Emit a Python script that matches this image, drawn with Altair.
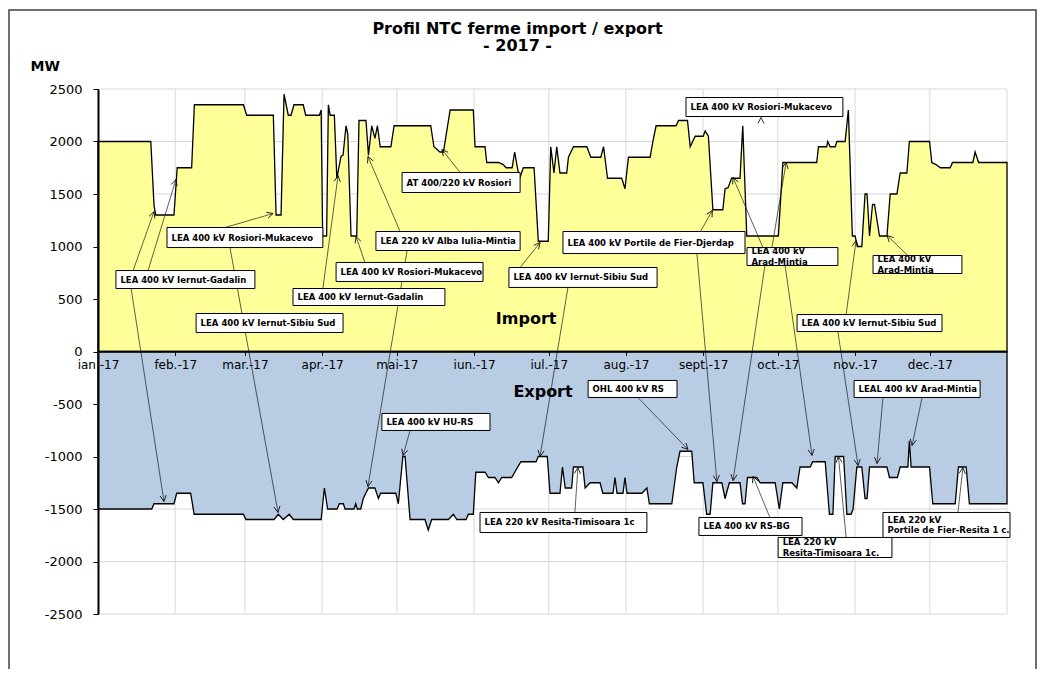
import math
import altair as alt
import pandas as pd

TITLE_LINES = ["Profil NTC ferme import / export", "- 2017 -"]
MONTH_START = [0, 31, 59, 90, 120, 151, 181, 212, 243, 273, 304, 334]
MONTH_LABELS = ["ian.-17", "feb.-17", "mar.-17", "apr.-17", "mai-17", "iun.-17",
                "iul.-17", "aug.-17", "sept.-17", "oct.-17", "nov.-17", "dec.-17"]
Y_TICKS = [2500, 2000, 1500, 1000, 500, 0, -500, -1000, -1500, -2000, -2500]

# Import profile (day of year, MW)
IMP_DAY = [0, 21.2, 22.5, 23.2, 30.5, 31.8, 37.6, 38.7, 58.4, 59.7, 70.4, 71.5, 73.5, 74.7, 76.4, 77.5,
           78.7, 82.4, 83.4, 88.9, 89.6, 90.2, 91.8, 92.5, 93.2, 94.9, 95.9, 97.6, 98.4, 99.6, 100.3,
           101.6, 103.9, 104.8, 107.6, 108.6, 109.9, 111.2, 112.2, 113.3, 117.6, 118.9, 133.6, 134.9,
           137.3, 138.7, 141.4, 150.7, 151.4, 155.4, 156.1, 160.8, 162.7, 163.9, 166.3, 167.3, 168.8,
           169.5, 170.8, 175.1, 176.8, 180.8, 181.8, 183.1, 184.2, 185.5, 188.2, 188.9, 190.9, 196.3,
           197.9, 201.9, 203.0, 204.6, 210.3, 211.6, 213.0, 221.7, 222.8, 224.1, 232.1, 233.1, 236.7,
           237.8, 239.8, 243.0, 243.8, 245.1, 246.9, 250.9, 251.8, 253.0, 254.4, 257.8, 258.9, 260.5,
           273.2, 275.0, 288.6, 289.3, 292.6, 293.0, 294.0, 296.0, 296.7, 300.0, 301.3, 302.9, 304.0,
           304.9, 306.7, 308.0, 308.8, 309.8, 311.0, 311.8, 313.8, 316.8, 318.1, 320.8, 322.1, 324.8,
           325.8, 333.9, 334.8, 336.5, 338.2, 342.2, 343.1, 351.3, 352.2, 353.6, 365]
IMP_MW = [2000, 2000, 1390, 1300, 1300, 1750, 1750, 2350, 2350, 2250, 2250, 1300, 1300, 2450, 2250, 2250,
          2350, 2350, 2250, 2250, 2300, 1100, 1100, 2350, 2250, 2250, 1650, 1860, 1870, 2150, 2070,
          1100, 1100, 2200, 2200, 1870, 2150, 2030, 2150, 1950, 1950, 2150, 2150, 1950,
          1900, 1900, 2300, 2300, 1950, 1950, 1800, 1800, 1780, 1750, 1750, 1900, 1700,
          1660, 1750, 1750, 1050, 1050, 1950, 1700, 1950, 1700, 1700, 1850, 1950, 1950,
          1850, 1850, 1950, 1650, 1650, 1550, 1850, 1850, 2000, 2150, 2150, 2200, 2200,
          1950, 2050, 2050, 2100, 2050, 1350, 1350, 1550, 1560, 1650, 1650, 2150, 1100,
          1100, 1800, 1800, 1950, 1950, 2000, 1950, 1950, 2000, 2000, 2300, 1100, 1100,
          1000, 1000, 1500, 1500, 1100, 1400, 1400, 1100, 1100, 1500, 1500, 1700, 1700,
          2000, 2000, 1800, 1780, 1750, 1750, 1800, 1800, 1900, 1800, 1800]

# Export profile (day of year, MW)
EXP_DAY = [0, 21.6, 22.5, 30.5, 31.6, 37.2, 38.6, 58.4, 59.4, 70.7, 72.4, 74.4, 76.8, 78.4, 89.6, 90.9,
           92.2, 96.0, 96.9, 98.5, 99.2, 102.8, 103.5, 104.1, 105.5, 106.5, 108.6, 111.2, 112.6, 113.5,
           119.6, 120.6, 122.4, 123.3, 125.3, 131.3, 132.6, 134.0, 140.7, 142.7, 144.1, 147.8, 148.7,
           150.7, 151.7, 155.4, 156.8, 159.4, 160.8, 162.1, 166.1, 169.8, 175.9, 176.8, 180.4, 181.5,
           185.5, 186.5, 187.6, 190.2, 190.9, 194.7, 195.6, 197.6, 201.6, 202.7, 206.8, 207.6, 208.4,
           210.8, 211.6, 212.4, 218.4, 220.4, 221.4, 230.4, 232.4, 233.7, 238.4, 239.4, 242.9, 244.4,
           245.8, 246.9, 250.5, 251.8, 253.5, 257.8, 258.8, 259.8, 260.8, 264.5, 265.9, 271.9, 273.6,
           275.0, 278.6, 280.6, 281.9, 286.0, 287.0, 292.0, 293.7, 295.1, 296.0, 299.4, 300.7, 302.4,
           303.2, 304.7, 306.7, 308.0, 308.8, 309.8, 316.8, 317.8, 321.0, 322.1, 325.2, 325.8, 326.5,
           333.9, 335.2, 344.2, 345.5, 348.6, 349.9, 365]
EXP_MW = [-1500, -1500, -1450, -1450, -1350, -1350, -1550, -1550, -1600, -1600, -1550, -1600, -1550, -1600, -1600, -1300,
          -1500, -1500, -1450, -1450, -1500, -1500, -1450, -1500, -1500, -1400, -1300, -1300, -1400, -1350,
          -1350, -1450, -1000, -1000, -1600, -1600, -1700, -1600, -1600, -1550, -1600, -1600, -1550,
          -1550, -1150, -1150, -1200, -1200, -1250, -1200, -1200, -1050, -1050, -1000, -1000, -1350,
          -1350, -1100, -1300, -1300, -1100, -1100, -1300, -1250, -1250, -1350, -1350, -1200, -1350,
          -1350, -1200, -1350, -1350, -1300, -1450, -1450, -1100, -950, -950, -1250, -1250, -1550,
          -1550, -1250, -1250, -1400, -1250, -1250, -1450, -1450, -1200, -1200, -1250, -1250, -1500,
          -1250, -1250, -1300, -1100, -1100, -1050, -1050, -1550, -1550, -1000, -1000, -1550, -1550,
          -1500, -1100, -1100, -1400, -1400, -1100, -1100, -1200, -1200, -1100, -1100, -850, -1100,
          -1100, -1450, -1450, -1100, -1100, -1450, -1450]

# Annotation boxes (day / MW)
ANN_TEXT = ["LEA 400 kV Iernut-Gadalin", "LEA 400 kV Rosiori-Mukacevo", "LEA 400 kV Iernut-Sibiu Sud",
            "LEA 400 kV Rosiori-Mukacevo", "LEA 400 kV Iernut-Gadalin", "LEA 220 kV Alba Iulia-Mintia",
            "AT 400/220 kV Rosiori", "LEA 400 kV Iernut-Sibiu Sud", "LEA 400 kV Portile de Fier-Djerdap",
            "LEA 400 kV Rosiori-Mukacevo", "LEA 400 kV\nArad-Mintia", "LEA 400 kV Iernut-Sibiu Sud",
            "LEA 400 kV\nArad-Mintia", "LEA 400 kV HU-RS", "LEA 220 kV Resita-Timisoara 1c",
            "OHL 400 kV RS", "LEA 400 kV RS-BG", "LEA 220 kV\nResita-Timisoara 1c.",
            "LEAL 400 kV Arad-Mintia", "LEA 220 kV\nPortile de Fier-Resita 1 c."]
ANN_X0 = [7.2, 27.7, 39.4, 95.6, 78.3, 111.6, 122.1, 165.0, 186.7, 236.1, 260.6, 280.7, 311.2,
          114.0, 153.4, 196.8, 241.3, 273.1, 303.6, 315.2]
ANN_X1 = [63.0, 90.3, 98.4, 154.6, 139.3, 169.5, 169.5, 224.5, 259.8, 299.1, 297.1, 338.9, 346.9,
          157.4, 220.4, 232.5, 282.7, 318.8, 354.2, 366.2]
ANN_YT = [771, 1181, 362, 848, 600, 1143, 1705, 800, 1143, 2419, 990, 352, 914,
          -590, -1533, -276, -1581, -1771, -276, -1533]
ANN_YB = [600, 990, 181, 667, 438, 962, 1514, 610, 933, 2238, 819, 190, 743,
          -752, -1724, -438, -1752, -1962, -438, -1771]

# Leader lines: from box (x1, y1) to target (x2, y2), arrow at target
LEAD_X1 = [14.1, 20.1, 13.3, 51.0, 53.0, 107.2, 90.3, 121.3, 124.1, 145.4, 169.5, 188.7, 241.9, 240.5,
           266.2, 267.0, 270.6, 267.8, 275.9, 300.4, 297.1, 325.2, 125.3, 191.5, 216.8, 269.8, 300.4,
           315.2, 330.9, 345.3]
LEAD_Y1 = [771, 771, 600, 1181, 990, 848, 600, 1143, 962, 1705, 800, 610, 1143, 933,
           2228, 990, 990, 819, 819, 352, 190, 914, -752, -1533, -438, -1581, -1771,
           -438, -438, -1533]
LEAD_X2 = [22.5, 31.3, 26.5, 70.3, 72.3, 103.6, 96.4, 108.4, 108.4, 138.1, 177.5, 177.5, 246.7, 248.5,
           266.2, 255.0, 276.3, 255.0, 286.7, 304.4, 305.2, 316.8, 122.5, 192.7, 236.9, 263.0, 297.3,
           312.8, 326.9, 347.3]
LEAD_Y2 = [1333, 1638, -1429, 1314, -1533, 1095, 1676, 1857, -1286, 1924, 1038, -1000, 1343, -1238,
           2229, 1657, 1800, -1229, -990, 1057, -1086, 1105, -990, -1105, -933, -1190, -1000,
           -1067, -895, -1105]

SERIES_TEXT = ["Import", "Export"]
SERIES_X = [171.9, 178.7]
SERIES_Y = [305, -390]

# ---------------------------------------------------------------
W, H = 909, 525
XMAX = 365
YMIN, YMAX = -2500, 2500
PXD = W / XMAX
PXM = H / (YMAX - YMIN)
FONT = "DejaVu Sans"
LINE_H = 10.5

xs = alt.Scale(domain=[0, XMAX], nice=False, zero=False)
ys = alt.Scale(domain=[YMIN, YMAX], nice=False)

label_expr = ("[" + ",".join("'%s'" % l for l in MONTH_LABELS) + "][indexof(["
              + ",".join(str(v) for v in MONTH_START) + "], datum.value)]")

XA = alt.Axis(values=MONTH_START, labelExpr=label_expr, orient="bottom", offset=-H / 2,
              grid=False, domainColor="black", domainWidth=1.5, tickColor="black", tickSize=4,
              tickWidth=1, labelFont=FONT, labelFontSize=12, labelColor="black", labelPadding=4,
              labelFlush=False, labelOverlap=False, labelBound=False, title=None, zindex=2)
YA = alt.Axis(values=Y_TICKS, labelExpr="'' + datum.value", grid=False, domainColor="black",
              domainWidth=2, tickColor="black", tickSize=5, tickWidth=1, labelFont=FONT,
              labelFontSize=13, labelColor="black", labelPadding=11, title="MW", titleAngle=0,
              titleX=-68, titleY=-23, titleAlign="left", titleBaseline="middle", titleFont=FONT,
              titleFontSize=14, titleFontWeight="bold", titleColor="black", zindex=2)


def X(f):
    return alt.X(f, type="quantitative", scale=xs, axis=XA)


def Y(f):
    return alt.Y(f, type="quantitative", scale=ys, axis=YA)


gx = pd.DataFrame({"d": MONTH_START + [XMAX], "lo": YMIN, "hi": YMAX})
gy = pd.DataFrame({"v": Y_TICKS, "a": 0, "b": XMAX})
imp = pd.DataFrame({"day": IMP_DAY, "mw": IMP_MW})
exp_ = pd.DataFrame({"day": EXP_DAY, "mw": EXP_MW})

ann = pd.DataFrame({"label": ANN_TEXT, "x0": ANN_X0, "x1": ANN_X1, "yt": ANN_YT, "yb": ANN_YB})
ann["tx"] = ann["x0"] + 4.5 / PXD
nlines = ann["label"].str.count("\n")
ann["ty"] = (ann["yt"] + ann["yb"]) / 2 + nlines * (LINE_H / 2) / PXM

lead = pd.DataFrame({"x1": LEAD_X1, "y1": LEAD_Y1, "x2": LEAD_X2, "y2": LEAD_Y2})


def ang(r):
    dx = (r["x2"] - r["x1"]) * PXD
    dy = -(r["y2"] - r["y1"]) * PXM
    a = math.degrees(math.atan2(dx, -dy))
    return a % 360


lead["ang"] = lead.apply(ang, axis=1)
ser = pd.DataFrame({"t": SERIES_TEXT, "x": SERIES_X, "y": SERIES_Y})

grid_x = alt.Chart(gx).mark_rule(color="#d9d9d9", strokeWidth=1).encode(
    x=X("d"), y=Y("lo"), y2="hi")
grid_y = alt.Chart(gy).mark_rule(color="#d9d9d9", strokeWidth=1).encode(
    x=X("a"), x2="b", y=Y("v"))
imp_area = alt.Chart(imp).mark_area(color="#FFFF99", opacity=1, stroke="black",
                                    strokeWidth=1.3).encode(x=X("day"), y=Y("mw"))
exp_area = alt.Chart(exp_).mark_area(color="#B8CCE4", opacity=1, stroke="black",
                                     strokeWidth=1.3).encode(x=X("day"), y=Y("mw"))
leaders = alt.Chart(lead).mark_rule(color="#1a1a1a", strokeWidth=0.7).encode(
    x=X("x1"), y=Y("y1"), x2="x2", y2="y2")
boxes = alt.Chart(ann).mark_rect(fill="white", stroke="black", strokeWidth=1).encode(
    x=X("x0"), x2="x1", y=Y("yt"), y2="yb")
texts = alt.Chart(ann).mark_text(align="left", baseline="middle", font=FONT, fontSize=8.5,
                                 fontWeight="bold", lineBreak="\n", lineHeight=LINE_H,
                                 color="black").encode(x=X("tx"), y=Y("ty"), text="label:N")
arrows = alt.Chart(lead).mark_point(shape="M-0.5,1L0,0L0.5,1", filled=False, stroke="black",
                                    strokeWidth=0.8, size=150, opacity=1).encode(
    x=X("x2"), y=Y("y2"), angle=alt.Angle("ang:Q", scale=None))
series_lbl = alt.Chart(ser).mark_text(font=FONT, fontSize=16, fontWeight="bold",
                                      color="black").encode(x=X("x"), y=Y("y"), text="t:N")
frame = alt.Chart(pd.DataFrame({"k": [0]})).mark_rect(fillOpacity=0, stroke="#404040",
                                                      strokeWidth=1.5).encode(
    x=alt.value(-89), y=alt.value(-79), x2=alt.value(938), y2=alt.value(720))

chart = alt.layer(grid_x, grid_y, imp_area, exp_area, leaders, boxes, texts, arrows,
                  series_lbl, frame).properties(
    width=W, height=H,
    autosize=alt.AutoSizeParams(type="none"),
    padding={"left": 90, "top": 81, "right": 30, "bottom": 55},
    title=alt.TitleParams(text=TITLE_LINES, font=FONT, fontSize=16, fontWeight="bold",
                          color="black", anchor="middle", dx=-35, offset=-45, lineHeight=17),
    background="white",
).configure_view(strokeWidth=0)

chart.save("out.html", embed_options={"renderer": "svg", "actions": False})
